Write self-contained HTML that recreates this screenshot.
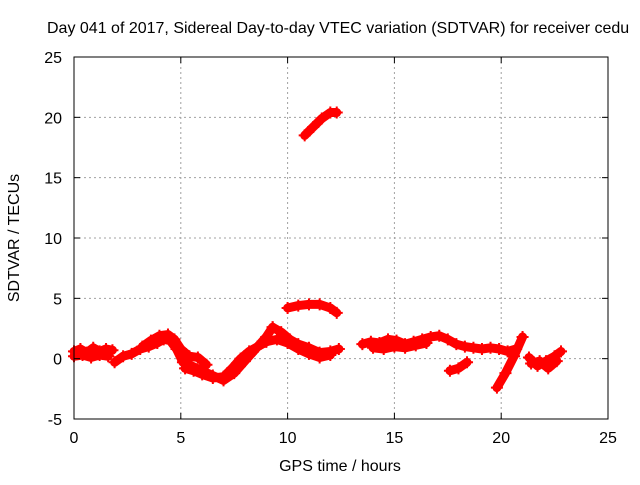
<!DOCTYPE html>
<html><head><meta charset="utf-8"><style>
body{margin:0;background:#fff;}
svg text{font-family:"Liberation Sans",sans-serif;font-size:16px;fill:#000;}
</style></head><body>
<svg id="c" width="640" height="480">
<text x="47" y="33" text-anchor="start">Day 041 of 2017, Sidereal Day-to-day VTEC variation (SDTVAR) for receiver cedu</text>
<g id="grid"></g>
<g id="marks"></g>
<rect x="74" y="57" width="534" height="362" fill="none" stroke="#000" stroke-width="1"/>
<g id="ticks"></g>
<text x="340" y="471" text-anchor="middle">GPS time / hours</text>
<text transform="translate(19,238) rotate(-90)" text-anchor="middle">SDTVAR / TECUs</text>
</svg>
<script>
const xTicks=[0,5,10,15,20,25];
const yTicks=[-5,0,5,10,15,20,25];
const trackA_t=[0,0.3,0.6,0.9,1.2,1.5,1.8];
const trackA_v=[0.6,0.8,0.5,0.9,0.6,0.8,0.7];
const trackA2_t=[0,0.4,0.8,1.2,1.6];
const trackA2_v=[0.2,0.3,0.1,0.3,0.2];
const trackB_t=[1.9,2.3,2.7,3.1,3.5,3.9,4.2,4.5,4.8,5.1,5.5,6.0,6.5,7.0,7.5,8.0,8.5,9.0,9.3];
const trackB_v=[-0.3,0.2,0.4,0.8,1.0,1.3,1.6,1.5,0.8,-0.3,-0.6,-1.0,-1.4,-1.8,-1.2,-0.2,0.8,1.8,2.6];
const trackB2_t=[5.2,5.6,6.0,6.5,7.0,7.4,7.8,8.2,8.6,9.0];
const trackB2_v=[-0.8,-1.0,-1.3,-1.6,-1.5,-0.8,0.0,0.6,1.0,1.4];
const trackC_t=[3.2,3.6,4.0,4.4,4.7,5.0,5.4,5.8,6.2];
const trackC_v=[1.0,1.5,1.9,2.0,1.6,0.8,0.2,0.1,-0.5];
const trackD_t=[9.3,9.7,10.1,10.5,11.0,11.5,12.0,12.4];
const trackD_v=[2.6,2.2,1.6,1.2,0.9,0.5,0.6,0.8];
const trackE_t=[8.6,9.0,9.5,10.0,10.5,11.0,11.5,12.0];
const trackE_v=[1.0,1.4,1.6,1.3,0.8,0.4,0.1,0.3];
const trackF_t=[10.0,10.5,11.0,11.5,12.0,12.3];
const trackF_v=[4.2,4.4,4.5,4.5,4.2,3.8];
const trackG_t=[10.8,11.2,11.6,12.0,12.3];
const trackG_v=[18.5,19.2,19.9,20.4,20.4];
const trackH_t=[13.5,13.9,14.3,14.7,15.1,15.5,15.9,16.3,16.7,17.1,17.5,17.9,18.3,18.7,19.1,19.5,19.9,20.3,20.7];
const trackH_v=[1.2,1.4,1.3,1.6,1.5,1.2,1.4,1.6,1.8,1.9,1.6,1.2,1.0,0.9,0.8,0.9,0.8,0.6,0.8];
const trackH2_t=[14.0,14.5,15.0,15.5,16.0,16.5];
const trackH2_v=[0.9,0.8,1.0,0.9,1.1,1.3];
const trackI_t=[17.6,18.0,18.4];
const trackI_v=[-1.0,-0.8,-0.3];
const trackJ_t=[19.8,20.2,20.6,21.0];
const trackJ_v=[-2.4,-1.2,0.2,1.8];
const trackK_t=[21.3,21.7,22.1,22.5,22.8];
const trackK_v=[0.1,-0.6,-0.2,0.2,0.6];
const trackK2_t=[21.4,21.8,22.2,22.6];
const trackK2_v=[-0.4,-0.2,-0.8,-0.2];
const tracks=[[trackA_t,trackA_v],[trackA2_t,trackA2_v],[trackB_t,trackB_v],[trackB2_t,trackB2_v],[trackC_t,trackC_v],[trackD_t,trackD_v],[trackE_t,trackE_v],[trackF_t,trackF_v],[trackG_t,trackG_v],[trackH_t,trackH_v],[trackH2_t,trackH2_v],[trackI_t,trackI_v],[trackJ_t,trackJ_v],[trackK_t,trackK_v],[trackK2_t,trackK2_v]];
const NS='http://www.w3.org/2000/svg';
const X=h=>74+h*(534/25);
const Y=v=>419-(v+5)*(362/30);
const grid=document.getElementById('grid'),ticks=document.getElementById('ticks'),marks=document.getElementById('marks');
function mk(tag,attrs,parent){const e=document.createElementNS(NS,tag);for(const k in attrs)e.setAttribute(k,attrs[k]);parent.appendChild(e);return e;}
xTicks.forEach(t=>{
 if(t>0&&t<25){const g=mk('line',{x1:X(t),x2:X(t),y1:57,y2:419,stroke:'#a0a0a0','stroke-dasharray':'2,3'},grid);
 
 }
 mk('line',{x1:X(t),x2:X(t),y1:419,y2:413,stroke:'#000'},ticks);
 mk('line',{x1:X(t),x2:X(t),y1:57,y2:63,stroke:'#000'},ticks);
 const l=mk('text',{x:X(t),y:443,'text-anchor':'middle'},ticks);l.textContent=t;
 
 
});
yTicks.forEach(t=>{
 if(t>-5&&t<25){const g=mk('line',{x1:74,x2:608,y1:Y(t),y2:Y(t),stroke:'#a0a0a0','stroke-dasharray':'2,3'},grid);
 
 }
 mk('line',{x1:74,x2:80,y1:Y(t),y2:Y(t),stroke:'#000'},ticks);
 mk('line',{x1:602,x2:608,y1:Y(t),y2:Y(t),stroke:'#000'},ticks);
 const l=mk('text',{x:62,y:Y(t)+6,'text-anchor':'end'},ticks);l.textContent=t;
 
 
});
tracks.forEach(([ts,vs])=>{
 const pts=ts.map((t,i)=>X(t)+','+Y(vs[i])).join(' ');
 const p=mk('polyline',{points:pts,fill:'none',stroke:'#ff0000','stroke-width':9,'stroke-linejoin':'round','stroke-linecap':'round'},marks);
 
 
 ts.forEach((t,i)=>{const x=X(t),y=Y(vs[i]);
  const m=mk('path',{d:`M${x-6},${y}h12M${x},${y-6}v12`,stroke:'#ff0000','stroke-width':2},marks);
  
  
 });
});
</script>
</body></html>
